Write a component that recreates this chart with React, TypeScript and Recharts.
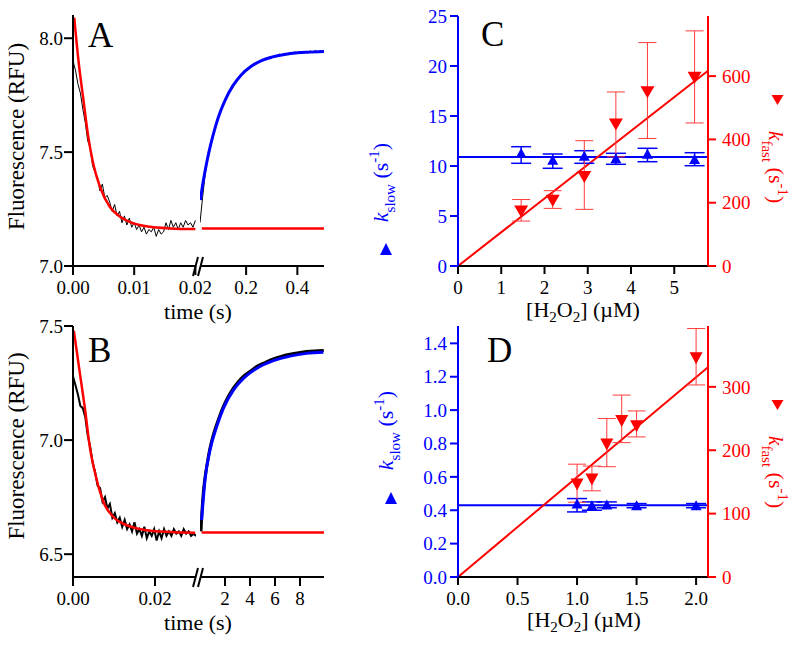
import React from 'react'
import { LineChart, Line, XAxis, YAxis, ComposedChart, Scatter, ErrorBar } from 'recharts'

const SERIF = 'Liberation Serif, Tinos, DejaVu Serif, Noto Serif, serif'
const BLUE = '#0000ff'
const RED = '#ff0000'
const BLACK = '#000000'

// ---- panel A, fast phase (0 - 0.02 s), trace sampled every 0.4 ms
const aFastTraceStart = 0
const aFastTraceStep = 0.0004
const aFastTrace = [
  7.90, 7.86, 7.80, 7.76, 7.69, 7.63, 7.55, 7.52, 7.44, 7.41,
  7.39, 7.33, 7.36, 7.30, 7.31, 7.28, 7.24, 7.27, 7.22, 7.24,
  7.19, 7.22, 7.18, 7.21, 7.17, 7.19, 7.16, 7.18, 7.15, 7.17,
  7.14, 7.16, 7.15, 7.17, 7.13, 7.16, 7.14, 7.15, 7.19, 7.16,
  7.20, 7.17, 7.19, 7.16, 7.19, 7.17, 7.20, 7.18, 7.19, 7.17, 7.20,
]
const aFastFitTime = [0.0002, 0.0009, 0.0017, 0.0025, 0.0033, 0.0044, 0.006, 0.0077, 0.0099, 0.0126, 0.0159, 0.02]
const aFastFit = [8.09, 7.90, 7.73, 7.567, 7.45, 7.348, 7.26, 7.216, 7.187, 7.172, 7.165, 7.162]

// ---- panel A, slow phase (0.02 - 0.5 s), trace sampled every 10 ms
const aSlowTraceStart = 0.02
const aSlowTraceStep = 0.01
const aSlowTrace = [
  7.19, 7.30, 7.40, 7.47, 7.522, 7.575, 7.607, 7.651, 7.676, 7.712,
  7.730, 7.760, 7.773, 7.800, 7.807, 7.830, 7.835, 7.855, 7.857, 7.872,
  7.874, 7.888, 7.887, 7.899, 7.898, 7.910, 7.906, 7.918, 7.913, 7.925,
  7.919, 7.930, 7.924, 7.934, 7.928, 7.937, 7.931, 7.940, 7.933, 7.942,
  7.935, 7.943, 7.936, 7.945, 7.937, 7.946, 7.938, 7.946, 7.940,
]
const aSlowFitTime = [0.022, 0.03, 0.04, 0.05, 0.06, 0.08, 0.10, 0.12, 0.15, 0.18, 0.22, 0.26, 0.30, 0.35, 0.40, 0.45, 0.504]
const aSlowFit = [7.29, 7.355, 7.418, 7.475, 7.525, 7.611, 7.679, 7.733, 7.794, 7.838, 7.877, 7.902, 7.917, 7.929, 7.936, 7.939, 7.942]
const aBaseTime = [0.027, 0.504]
const aBase = [7.165, 7.165]

// ---- panel B, fast phase (0 - 0.03 s), trace sampled every 0.6 ms
const bFastTraceStart = 0
const bFastTraceStep = 0.0006
const bFastTrace = [
  7.28, 7.24, 7.20, 7.15, 7.14, 7.10, 7.02, 6.97, 6.90, 6.86,
  6.80, 6.79, 6.73, 6.75, 6.70, 6.72, 6.66, 6.68, 6.64, 6.66,
  6.62, 6.65, 6.61, 6.63, 6.60, 6.64, 6.59, 6.61, 6.58, 6.62,
  6.57, 6.60, 6.58, 6.61, 6.56, 6.60, 6.57, 6.61, 6.58, 6.60,
  6.58, 6.61, 6.59, 6.60, 6.58, 6.61, 6.59, 6.60, 6.58, 6.59, 6.58,
]
const bFastFitTime = [0.0002, 0.0017, 0.0029, 0.0041, 0.0058, 0.0074, 0.0098, 0.0131, 0.018, 0.0237, 0.0298]
const bFastFit = [7.48, 7.29, 7.14, 6.97, 6.825, 6.73, 6.664, 6.627, 6.605, 6.597, 6.594]

// ---- panel B, slow phase (0 - 10 s)
const bSlowTraceTime = [0.08, 0.13, 0.25, 0.4, 0.6, 0.8, 1.0, 1.33, 1.6, 1.87, 2.2, 2.67, 3.0, 3.47, 4.0, 4.53, 5.2, 5.87, 6.5, 7.2, 7.9, 8.53, 9.2, 9.9]
const bSlowTrace = [6.60, 6.66, 6.76, 6.835, 6.905, 6.965, 7.01, 7.068, 7.11, 7.148, 7.185, 7.228, 7.252, 7.279, 7.301, 7.322, 7.34, 7.356, 7.367, 7.376, 7.383, 7.388, 7.391, 7.393]
const bSlowFitTime = [0.13, 0.4, 0.8, 1.33, 1.87, 2.67, 3.47, 4.53, 5.87, 7.2, 8.53, 9.87]
const bSlowFit = [6.649, 6.825, 6.956, 7.058, 7.139, 7.219, 7.27, 7.314, 7.348, 7.368, 7.38, 7.385]
const bBaseTime = [0.13, 9.92]
const bBase = [6.595, 6.595]

// ---- panel C
const cConc = [1.46, 2.19, 2.92, 3.65, 4.38, 5.47]
const cSlow = [11.3, 10.63, 11.03, 10.77, 11.22, 10.7]
const cSlowErrLow = [1.03, 0.86, 0.76, 0.6, 0.79, 0.67]
const cSlowErrHigh = [0.63, 0.57, 0.5, 0.5, 0.55, 0.63]
const cFast = [172, 206, 281, 447, 549, 595]
const cFastErrLow = [30, 24, 102, 102, 146, 143]
const cFastErrHigh = [38, 32, 115, 103, 157, 148]
const cFitConc = [0, 5.78]
const cSlowFit = [10.9, 10.9]
const cFastFit = [0, 617]

// ---- panel D
const dSlowConc = [1.0, 1.125, 1.25, 1.5, 2.0]
const dSlow = [0.44, 0.43, 0.435, 0.43, 0.43]
const dSlowErrLow = [0.05, 0.03, 0.02, 0.015, 0.015]
const dSlowErrHigh = [0.03, 0.02, 0.015, 0.01, 0.01]
const dFastConc = [1.0, 1.125, 1.25, 1.375, 1.5, 2.0]
const dFast = [146, 154, 209, 246, 238, 345]
const dFastErrLow = [28, 18, 35, 34, 17, 42]
const dFastErrHigh = [32, 21, 41, 41, 24, 47]
const dFitConc = [0, 2.1]
const dSlowFit = [0.43, 0.43]
const dFastFit = [0, 331]

type Pt = { x: number; y: number; err?: number[] }

const zip = (xs: number[], ys: number[]): Pt[] => xs.map((x, i) => ({ x, y: ys[i] }))
const sampled = (start: number, step: number, ys: number[]): Pt[] =>
  ys.map((y, i) => ({ x: +(start + i * step).toFixed(5), y }))
const withErr = (xs: number[], ys: number[], lo: number[], hi: number[]): Pt[] =>
  xs.map((x, i) => ({ x, y: ys[i], err: [lo[i], hi[i]] }))

const line2 = (c: string) => ({ stroke: c, strokeWidth: 2 })
const tickFont = (c: string) => ({ fill: c, fontSize: 19, fontFamily: SERIF })

interface Series { data: Pt[]; color: string; width: number; smooth?: boolean }

interface TraceProps {
  left: number
  top: number
  width: number
  margin: { top: number; right: number; bottom: number; left: number }
  xAxisHeight: number
  xDomain: number[]
  xTicks: number[]
  xFormat: (v: number) => string
  yDomain: number[]
  yTicks?: number[]
  series: Series[]
}

function TraceChart({ left, top, width, margin, xAxisHeight, xDomain, xTicks, xFormat, yDomain, yTicks, series }: TraceProps) {
  return (
    <div style={{ position: 'absolute', left, top }}>
      <LineChart width={width} height={330} margin={margin}>
        <XAxis
          type="number"
          dataKey="x"
          domain={xDomain}
          ticks={xTicks}
          tickFormatter={xFormat}
          allowDataOverflow
          interval={0}
          height={xAxisHeight}
          axisLine={line2(BLACK)}
          tickLine={line2(BLACK)}
          tickSize={9}
          tickMargin={6}
          tick={tickFont(BLACK)}
        />
        <YAxis
          type="number"
          domain={yDomain}
          ticks={yTicks}
          allowDataOverflow
          hide={!yTicks}
          width={73}
          tickFormatter={(v: number) => v.toFixed(1)}
          axisLine={line2(BLACK)}
          tickLine={line2(BLACK)}
          tickSize={9}
          tickMargin={1}
          tick={tickFont(BLACK)}
        />
        {series.map((s, i) => (
          <Line
            key={i}
            data={s.data}
            dataKey="y"
            type={s.smooth ? 'monotone' : 'linear'}
            stroke={s.color}
            strokeWidth={s.width}
            dot={false}
            isAnimationActive={false}
          />
        ))}
      </LineChart>
    </div>
  )
}

const upTriangle = (w: number, h: number) => (props: any) => {
  const { cx, cy } = props
  return <polygon points={`${cx - w / 2},${cy + h / 2} ${cx + w / 2},${cy + h / 2} ${cx},${cy - h / 2}`} fill={BLUE} />
}
const downTriangle = (w: number, h: number) => (props: any) => {
  const { cx, cy } = props
  return <polygon points={`${cx - w / 2},${cy - h / 2} ${cx + w / 2},${cy - h / 2} ${cx},${cy + h / 2}`} fill={RED} />
}

interface RateProps {
  top: number
  xAxisHeight: number
  xDomain: number[]
  xTicks: number[]
  xFormat: (v: number) => string
  lDomain: number[]
  lTicks: number[]
  lFormat: (v: number) => string
  rDomain: number[]
  rTicks: number[]
  slowPts: Pt[]
  fastPts: Pt[]
  slowFit: Pt[]
  fastFit: Pt[]
  slowSize: number[]
  fastSize: number[]
}

function RateChart(p: RateProps) {
  return (
    <div style={{ position: 'absolute', left: 400, top: p.top }}>
      <ComposedChart width={400} height={330} margin={{ top: 16, right: 0, bottom: 0, left: 0 }}>
        <XAxis
          type="number"
          dataKey="x"
          domain={p.xDomain}
          ticks={p.xTicks}
          tickFormatter={p.xFormat}
          allowDataOverflow
          interval={0}
          height={p.xAxisHeight}
          axisLine={line2(BLACK)}
          tickLine={line2(BLACK)}
          tickSize={8}
          tickMargin={7}
          tick={tickFont(BLACK)}
        />
        <YAxis
          yAxisId="L"
          orientation="left"
          type="number"
          dataKey="y"
          domain={p.lDomain}
          ticks={p.lTicks}
          tickFormatter={p.lFormat}
          allowDataOverflow
          interval={0}
          width={58}
          axisLine={line2(BLUE)}
          tickLine={line2(BLUE)}
          tickSize={8}
          tickMargin={3}
          tick={tickFont(BLUE)}
        />
        <YAxis
          yAxisId="R"
          orientation="right"
          type="number"
          dataKey="y"
          domain={p.rDomain}
          ticks={p.rTicks}
          allowDataOverflow
          interval={0}
          width={92}
          axisLine={line2(RED)}
          tickLine={line2(RED)}
          tickSize={8}
          tickMargin={6}
          tick={tickFont(RED)}
        />
        <Line yAxisId="L" data={p.slowFit} dataKey="y" stroke={BLUE} strokeWidth={2} dot={false} isAnimationActive={false} />
        <Line yAxisId="R" data={p.fastFit} dataKey="y" stroke={RED} strokeWidth={2} dot={false} isAnimationActive={false} />
        <Scatter yAxisId="L" data={p.slowPts} dataKey="y" fill={BLUE} shape={upTriangle(p.slowSize[0], p.slowSize[1])} isAnimationActive={false}>
          <ErrorBar dataKey="err" direction="y" width={10} stroke={BLUE} strokeWidth={1.5} />
        </Scatter>
        <Scatter yAxisId="R" data={p.fastPts} dataKey="y" fill={RED} shape={downTriangle(p.fastSize[0], p.fastSize[1])} isAnimationActive={false}>
          <ErrorBar dataKey="err" direction="y" width={9} stroke="#ff3b3b" strokeWidth={1} />
        </Scatter>
      </ComposedChart>
    </div>
  )
}

function KLabel({ x, y, rot, color, sub }: { x: number; y: number; rot: number; color: string; sub: string }) {
  return (
    <text
      transform={`translate(${x},${y}) rotate(${rot})`}
      textAnchor="middle"
      fill={color}
      fontSize={22}
      fontFamily={SERIF}
      style={{ whiteSpace: 'pre' }}
    >
      <tspan fontStyle="italic">k</tspan>
      <tspan fontSize={15} dy={7}>{sub}</tspan>
      <tspan dy={-7}>{' (s'}</tspan>
      <tspan fontSize={15} dy={-9}>-1</tspan>
      <tspan dy={9}>)</tspan>
    </text>
  )
}

function Conc({ x, y }: { x: number; y: number }) {
  return (
    <text x={x} y={y} textAnchor="middle" fontSize={22} fontFamily={SERIF} style={{ whiteSpace: 'pre' }}>
      [H<tspan fontSize={15} dy={5}>2</tspan>
      <tspan dy={-5}>O</tspan>
      <tspan fontSize={15} dy={5}>2</tspan>
      <tspan dy={-5}>{'] (µM)'}</tspan>
    </text>
  )
}

export default function App() {
  const fix2 = (v: number) => v.toFixed(2)
  const fix1 = (v: number) => v.toFixed(1)
  const int = (v: number) => String(v)

  return (
    <div style={{ position: 'absolute', left: 0, top: 0, width: 800, height: 646, background: '#fff', fontFamily: SERIF }}>
      {/* A */}
      <TraceChart
        left={0}
        top={0}
        width={230}
        margin={{ top: 15, right: 34, bottom: 0, left: 0 }}
        xAxisHeight={64}
        xDomain={[0, 0.0201]}
        xTicks={[0, 0.01, 0.02]}
        xFormat={fix2}
        yDomain={[7, 8.102]}
        yTicks={[7, 7.5, 8]}
        series={[
          { data: sampled(aFastTraceStart, aFastTraceStep, aFastTrace), color: BLACK, width: 1 },
          { data: zip(aFastFitTime, aFastFit), color: RED, width: 2.5, smooth: true },
        ]}
      />
      <TraceChart
        left={200}
        top={0}
        width={130}
        margin={{ top: 15, right: 6, bottom: 0, left: 0 }}
        xAxisHeight={64}
        xDomain={[0.02, 0.504]}
        xTicks={[0.2, 0.4]}
        xFormat={fix1}
        yDomain={[7, 8.102]}
        series={[
          { data: sampled(aSlowTraceStart, aSlowTraceStep, aSlowTrace), color: BLACK, width: 1 },
          { data: zip(aBaseTime, aBase), color: RED, width: 2.5 },
          { data: zip(aSlowFitTime, aSlowFit), color: BLUE, width: 3, smooth: true },
        ]}
      />
      {/* B */}
      <TraceChart
        left={0}
        top={310}
        width={230}
        margin={{ top: 16, right: 34, bottom: 0, left: 0 }}
        xAxisHeight={63}
        xDomain={[0, 0.03]}
        xTicks={[0, 0.02]}
        xFormat={fix2}
        yDomain={[6.4, 7.5]}
        yTicks={[6.5, 7, 7.5]}
        series={[
          { data: sampled(bFastTraceStart, bFastTraceStep, bFastTrace), color: BLACK, width: 2 },
          { data: zip(bFastFitTime, bFastFit), color: RED, width: 2.5, smooth: true },
        ]}
      />
      <TraceChart
        left={200}
        top={310}
        width={130}
        margin={{ top: 16, right: 6, bottom: 0, left: 0 }}
        xAxisHeight={63}
        xDomain={[0, 9.92]}
        xTicks={[2, 4, 6, 8]}
        xFormat={int}
        yDomain={[6.4, 7.5]}
        series={[
          { data: zip(bSlowTraceTime, bSlowTrace), color: BLACK, width: 3, smooth: true },
          { data: zip(bBaseTime, bBase), color: RED, width: 2.5 },
          { data: zip(bSlowFitTime, bSlowFit), color: BLUE, width: 3, smooth: true },
        ]}
      />
      {/* C */}
      <RateChart
        top={0}
        xAxisHeight={64}
        xDomain={[0, 5.78]}
        xTicks={[0, 1, 2, 3, 4, 5]}
        xFormat={int}
        lDomain={[0, 25]}
        lTicks={[0, 5, 10, 15, 20, 25]}
        lFormat={int}
        rDomain={[0, 790]}
        rTicks={[0, 200, 400, 600]}
        slowPts={withErr(cConc, cSlow, cSlowErrLow, cSlowErrHigh)}
        fastPts={withErr(cConc, cFast, cFastErrLow, cFastErrHigh)}
        slowFit={zip(cFitConc, cSlowFit)}
        fastFit={zip(cFitConc, cFastFit)}
        slowSize={[11, 10]}
        fastSize={[14, 12]}
      />
      {/* D */}
      <RateChart
        top={310}
        xAxisHeight={63}
        xDomain={[0, 2.1]}
        xTicks={[0, 0.5, 1, 1.5, 2]}
        xFormat={fix1}
        lDomain={[0, 1.504]}
        lTicks={[0, 0.2, 0.4, 0.6, 0.8, 1.0, 1.2, 1.4]}
        lFormat={fix1}
        rDomain={[0, 396]}
        rTicks={[0, 100, 200, 300]}
        slowPts={withErr(dSlowConc, dSlow, dSlowErrLow, dSlowErrHigh)}
        fastPts={withErr(dFastConc, dFast, dFastErrLow, dFastErrHigh)}
        slowFit={zip(dFitConc, dSlowFit)}
        fastFit={zip(dFitConc, dFastFit)}
        slowSize={[11, 10]}
        fastSize={[13, 12]}
      />

      <svg width={800} height={646} style={{ position: 'absolute', left: 0, top: 0, pointerEvents: 'none' }}>
        {/* axis breaks */}
        <line x1={193} y1={276} x2={198} y2={257} stroke={BLACK} strokeWidth={2} />
        <line x1={198} y1={276} x2={203} y2={257} stroke={BLACK} strokeWidth={2} />
        <line x1={193} y1={587} x2={198} y2={568} stroke={BLACK} strokeWidth={2} />
        <line x1={198} y1={587} x2={203} y2={568} stroke={BLACK} strokeWidth={2} />

        {/* panel letters */}
        <text x={88} y={47} fontSize={35} fontFamily={SERIF}>A</text>
        <text x={88} y={362} fontSize={35} fontFamily={SERIF}>B</text>
        <text x={481} y={46} fontSize={35} fontFamily={SERIF}>C</text>
        <text x={487} y={362} fontSize={35} fontFamily={SERIF}>D</text>

        {/* axis titles */}
        <text transform="translate(24,136.5) rotate(-90)" textAnchor="middle" fontSize={23} fontFamily={SERIF}>Fluorescence (RFU)</text>
        <text transform="translate(24,446) rotate(-90)" textAnchor="middle" fontSize={23} fontFamily={SERIF}>Fluorescence (RFU)</text>
        <text x={198} y={319} textAnchor="middle" fontSize={22} fontFamily={SERIF}>time (s)</text>
        <text x={198} y={630} textAnchor="middle" fontSize={22} fontFamily={SERIF}>time (s)</text>
        <Conc x={583} y={317} />
        <Conc x={584} y={627} />

        <KLabel x={388} y={182.5} rot={-90} color={BLUE} sub="slow" />
        <KLabel x={393} y={430.5} rot={-90} color={BLUE} sub="slow" />
        <KLabel x={769} y={167} rot={90} color={RED} sub="fast" />
        <KLabel x={769} y={472} rot={90} color={RED} sub="fast" />

        <polygon points="380,255 392,255 386,243" fill={BLUE} />
        <polygon points="385,504 397,504 391,492" fill={BLUE} />
        <polygon points="771.5,95 783.5,95 777.5,105" fill={RED} />
        <polygon points="771.5,400 783.5,400 777.5,410" fill={RED} />
      </svg>
    </div>
  )
}
